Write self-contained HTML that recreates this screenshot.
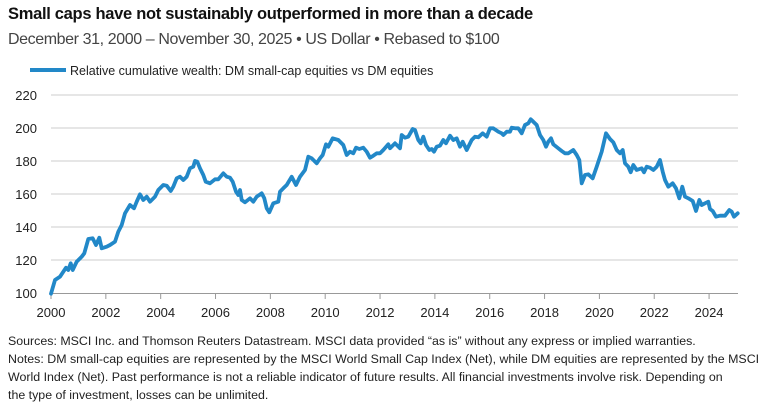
<!DOCTYPE html>
<html><head><meta charset="utf-8"><style>
body{margin:0;background:#fff;width:784px;height:418px;overflow:hidden;font-family:"Liberation Sans",sans-serif;color:#222}
.t{position:absolute;left:8px;white-space:nowrap}
</style></head><body>
<div class="t" style="top:5px;font-size:16.5px;font-weight:bold;color:#111;letter-spacing:-0.3px">Small caps have not sustainably outperformed in more than a decade</div>
<div class="t" style="top:31px;font-size:16px;color:#444;letter-spacing:-0.4px">December 31, 2000 – November 30, 2025 • US Dollar • Rebased to $100</div>
<svg width="784" height="418" style="position:absolute;left:0;top:0">
<line x1="30" y1="70" x2="66" y2="70" stroke="#2288c8" stroke-width="4"/>
<text x="70" y="75" font-size="12.5" fill="#222" font-family="Liberation Sans">Relative cumulative wealth: DM small-cap equities vs DM equities</text>
<g stroke="#ccc" stroke-width="1">
<line x1="51" x2="738" y1="95" y2="95"/><line x1="51" x2="738" y1="128" y2="128"/><line x1="51" x2="738" y1="161" y2="161"/><line x1="51" x2="738" y1="194" y2="194"/><line x1="51" x2="738" y1="227" y2="227"/><line x1="51" x2="738" y1="260" y2="260"/>
</g>
<line x1="51" x2="738" y1="293.5" y2="293.5" stroke="#999"/>
<g id="ticks" stroke="#999"></g>
<g font-size="13" fill="#222" font-family="Liberation Sans" text-anchor="end" id="yl"></g>
<g font-size="13" fill="#222" font-family="Liberation Sans" text-anchor="middle" id="xl"></g>
<path id="p" fill="none" stroke="#2288c8" stroke-width="3.8" stroke-linejoin="round" stroke-linecap="round"/>
</svg>
<div class="t" style="top:332px;font-size:12.4px;line-height:18px;width:772px;white-space:normal;color:#222">Sources: MSCI Inc. and Thomson Reuters Datastream. MSCI data provided “as is” without any express or implied warranties.<br>Notes: DM small-cap equities are represented by the MSCI World Small Cap Index (Net), while DM equities are represented by the MSCI<br>World Index (Net). Past performance is not a reliable indicator of future results. All financial investments involve risk. Depending on<br>the type of investment, losses can be unlimited.</div>
<script>
var a=[33,626,45,585,60,575,78,548,85,555,92,535,98,555,110,530,125,515,133,505,145,462,158,460,168,480,178,458,185,490,200,485,210,480,225,470,235,440,245,420,255,385,270,360,282,370,290,350,300,328,310,345,320,335,330,350,345,335,355,315,370,300,380,302,392,318,400,305,410,280,420,275,430,285,440,275,450,250,460,245,465,228,472,230,480,250,490,270,497,290,510,295,525,283,535,283,550,265,560,275,570,278,578,290,588,320,595,330,600,315,605,345,615,352,630,340,640,350,650,335,665,325,673,340,680,370,688,382,700,355,715,350,720,320,730,310,740,300,755,275,768,300,780,275,795,255,805,215,815,220,830,235,840,220,848,210,858,178,865,185,878,160,895,165,910,180,920,210,930,200,940,205,948,188,958,192,970,188,980,200,990,218,1000,212,1010,205,1020,205,1030,195,1045,178,1050,190,1065,175];
var b=[30,190,35,150,45,158,55,155,68,132,75,135,85,165,92,175,100,155,108,180,118,195,125,192,132,200,140,185,150,182,160,165,168,175,180,152,190,165,200,160,210,185,218,170,230,195,245,165,255,155,265,157,278,145,290,155,300,130,310,130,325,140,335,145,340,150,350,140,360,140,365,128,375,130,385,130,395,145,405,120,415,115,422,103,430,110,440,120,450,150,460,165,468,185,475,170,483,160,490,178,505,190,515,198,525,205,535,205,550,195,560,210,568,225,575,295,585,270,595,268,608,280,620,245,635,200,648,145,660,162,670,172,680,195,690,205,698,195,705,235,715,245,722,262,730,240,740,255,755,250,762,262,770,245,780,248,790,255,800,245,810,225,818,260,825,285,835,305,848,295,858,310,868,340,877,305,885,335,895,340,908,348,918,378,928,345,935,360,945,355,955,350,960,372,968,378,978,395,990,392,1005,392,1018,375,1025,380,1032,395,1043,385];
var d="";
for(var i=0;i<a.length;i+=2){d+=(i?"L":"M")+(40+a[i]/3).toFixed(1)+" "+(85+a[i+1]/3).toFixed(1);}
for(var i=0;i<b.length;i+=2){d+="L"+(390+b[i]/3).toFixed(1)+" "+(85+b[i+1]/3).toFixed(1);}
document.getElementById("p").setAttribute("d",d);
var ns="http://www.w3.org/2000/svg",yl=document.getElementById("yl"),xl=document.getElementById("xl"),tk=document.getElementById("ticks");
for(var v=0;v<7;v++){var t=document.createElementNS(ns,"text");t.setAttribute("x",37);t.setAttribute("y",293.5-33*v+4.5);t.textContent=100+20*v;yl.appendChild(t);}
for(var k=0;k<13;k++){var x=51+k*2*27.42;var t=document.createElementNS(ns,"text");t.setAttribute("x",x);t.setAttribute("y",317);t.textContent=2000+2*k;xl.appendChild(t);
var l=document.createElementNS(ns,"line");l.setAttribute("x1",x);l.setAttribute("x2",x);l.setAttribute("y1",293);l.setAttribute("y2",299);tk.appendChild(l);}
</script>
</body></html>
